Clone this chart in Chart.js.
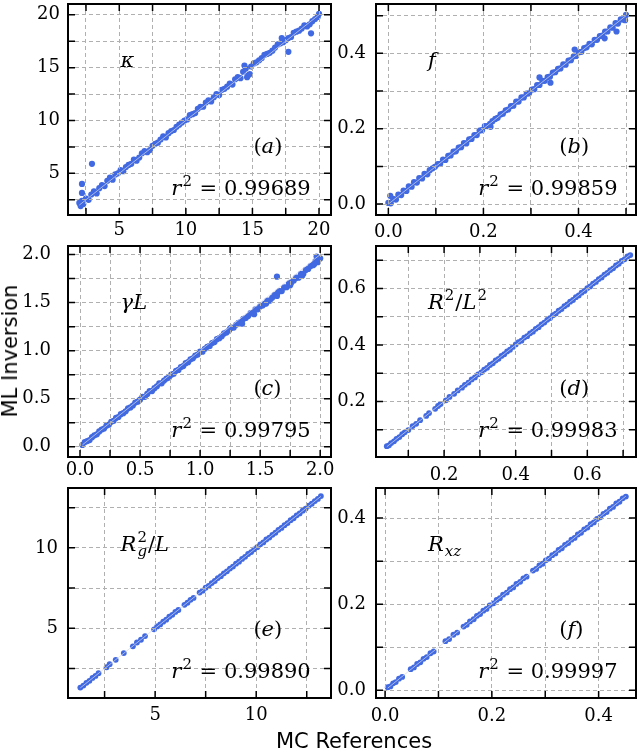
<!DOCTYPE html>
<html>
<head>
<meta charset="utf-8">
<script src="https://cdn.jsdelivr.net/npm/chart.js@4.4.1/dist/chart.umd.min.js"></script>
<style>
  html, body { margin: 0; padding: 0; background: #fff; }
  #wrap { position: relative; width: 640px; height: 752px; overflow: hidden; background: #fff; }
  canvas { position: absolute; }
  .lab { position: absolute; font-family: "DejaVu Sans"; font-size: 21px; color: #000; white-space: nowrap; }
  #ylab { left: 10px; top: 351px; transform: translate(-50%, -50%) rotate(-90deg); }
  #xlab { left: 354px; top: 741px; transform: translate(-50%, -50%); }
</style>
</head>
<body>
<div id="wrap">
  <canvas id="pa"></canvas>
  <canvas id="pb"></canvas>
  <canvas id="pc"></canvas>
  <canvas id="pd"></canvas>
  <canvas id="pe"></canvas>
  <canvas id="pf"></canvas>
  <div class="lab" id="ylab">ML Inversion</div>
  <div class="lab" id="xlab">MC References</div>
</div>
<script>
// (a) kappa : MC reference vs ML inversion
const kappaRef = [
  2.0, 2.1, 2.2, 2.3, 2.5, 2.7, 2.9, 3.1, 3.3, 3.5,
  3.7, 3.9, 4.1, 4.3, 4.5, 4.7, 4.9, 5.1, 5.3, 5.5,
  5.7, 5.9, 6.1, 6.3, 6.5, 6.7, 6.9, 7.1, 7.3, 7.5,
  7.7, 7.9, 8.1, 8.3, 8.5, 8.7, 8.9, 9.1, 9.3, 9.5,
  9.7, 9.9, 10.1, 10.3, 10.5, 10.7, 10.9, 11.1, 11.3, 11.5,
  11.7, 11.9, 12.1, 12.3, 12.5, 12.7, 12.9, 13.1, 13.3, 13.5,
  13.7, 13.9, 14.1, 14.3, 14.5, 14.7, 14.9, 15.1, 15.3, 15.5,
  15.7, 15.9, 16.1, 16.3, 16.5, 16.7, 16.9, 17.1, 17.3, 17.5,
  17.7, 17.9, 18.1, 18.3, 18.5, 18.7, 18.9, 19.1, 19.3, 19.5,
  19.7, 19.9, 20.0, 2.2, 2.2, 2.95, 17.7, 19.4, 14.6, 14.8,
  14.4, 17.2
];
const kappaML = [
  2.2, 1.9, 2.4, 2.1, 2.6, 2.5, 3.0, 3.3, 3.1, 3.6,
  3.9, 3.8, 4.3, 4.6, 4.4, 4.9, 5.0, 5.3, 5.2, 5.6,
  5.8, 5.9, 6.3, 6.2, 6.5, 6.9, 7.1, 7.0, 7.2, 7.6,
  7.8, 7.9, 8.2, 8.5, 8.4, 8.8, 9.0, 9.1, 9.4, 9.6,
  9.8, 10.0, 10.1, 10.5, 10.6, 10.7, 11.1, 11.3, 11.3, 11.7,
  11.9, 11.8, 12.2, 12.5, 12.4, 12.9, 13.0, 13.2, 13.5, 13.4,
  13.9, 14.1, 14.0, 14.6, 14.9, 14.3, 15.1, 15.4, 15.5, 15.7,
  15.9, 16.2, 16.3, 16.4, 16.6, 16.9, 17.2, 17.3, 17.4, 17.6,
  17.8, 17.9, 18.3, 18.4, 18.5, 18.7, 19.0, 18.9, 19.1, 19.4,
  19.6, 19.8, 20.1, 4.0, 3.15, 5.9, 16.5, 18.25, 14.1, 14.4,
  15.2, 17.8
];

// (b) f
const fRef = [
  0.000, 0.005, 0.010, 0.016, 0.021, 0.027, 0.032, 0.038, 0.043, 0.049,
  0.054, 0.060, 0.065, 0.071, 0.076, 0.082, 0.087, 0.093, 0.098, 0.104,
  0.109, 0.115, 0.120, 0.126, 0.131, 0.137, 0.142, 0.148, 0.153, 0.159,
  0.164, 0.170, 0.175, 0.181, 0.186, 0.192, 0.197, 0.203, 0.208, 0.214,
  0.219, 0.225, 0.230, 0.236, 0.241, 0.247, 0.252, 0.258, 0.263, 0.269,
  0.274, 0.280, 0.285, 0.291, 0.296, 0.302, 0.307, 0.313, 0.318, 0.324,
  0.329, 0.335, 0.340, 0.346, 0.351, 0.357, 0.362, 0.368, 0.373, 0.379,
  0.384, 0.390, 0.395, 0.401, 0.406, 0.412, 0.417, 0.423, 0.428, 0.434,
  0.439, 0.445, 0.450, 0.456, 0.461, 0.467, 0.472, 0.478, 0.483, 0.489,
  0.494, 0.500, 0.004, 0.341, 0.480, 0.455, 0.392, 0.498, 0.318, 0.215
];
const fML = [
  0.003, 0.002, 0.014, 0.012, 0.025, 0.024, 0.036, 0.035, 0.047, 0.046,
  0.058, 0.057, 0.069, 0.068, 0.080, 0.079, 0.090, 0.095, 0.099, 0.106,
  0.107, 0.118, 0.117, 0.128, 0.129, 0.139, 0.140, 0.150, 0.151, 0.162,
  0.161, 0.172, 0.173, 0.183, 0.183, 0.195, 0.196, 0.207, 0.207, 0.213,
  0.220, 0.226, 0.229, 0.238, 0.240, 0.249, 0.251, 0.260, 0.261, 0.272,
  0.272, 0.283, 0.283, 0.293, 0.294, 0.304, 0.305, 0.316, 0.316, 0.327,
  0.327, 0.337, 0.338, 0.349, 0.350, 0.359, 0.360, 0.371, 0.370, 0.381,
  0.382, 0.392, 0.393, 0.403, 0.404, 0.414, 0.416, 0.425, 0.424, 0.436,
  0.436, 0.446, 0.447, 0.458, 0.458, 0.469, 0.468, 0.480, 0.479, 0.490,
  0.490, 0.502, 0.022, 0.322, 0.458, 0.440, 0.410, 0.488, 0.336, 0.205
];

// (c) gamma L
const gammaRef = [
  0.02, 0.04, 0.06, 0.08, 0.10, 0.12, 0.14, 0.16, 0.18, 0.20,
  0.22, 0.24, 0.26, 0.28, 0.30, 0.32, 0.34, 0.36, 0.38, 0.40,
  0.42, 0.44, 0.46, 0.48, 0.50, 0.52, 0.54, 0.56, 0.58, 0.60,
  0.62, 0.64, 0.66, 0.68, 0.70, 0.72, 0.74, 0.76, 0.78, 0.80,
  0.82, 0.84, 0.86, 0.88, 0.90, 0.92, 0.94, 0.96, 0.98, 1.00,
  1.02, 1.04, 1.06, 1.08, 1.10, 1.12, 1.14, 1.16, 1.18, 1.20,
  1.22, 1.24, 1.26, 1.28, 1.30, 1.32, 1.34, 1.36, 1.38, 1.40,
  1.42, 1.44, 1.46, 1.48, 1.50, 1.52, 1.54, 1.56, 1.58, 1.60,
  1.62, 1.64, 1.66, 1.68, 1.70, 1.72, 1.74, 1.76, 1.78, 1.80,
  1.82, 1.84, 1.86, 1.88, 1.90, 1.92, 1.94, 1.96, 1.98, 2.00,
  1.45, 1.55, 1.65, 1.75, 1.85, 1.95, 1.64, 1.97, 1.25, 1.35
];
const gammaML = [
  0.02, 0.05, 0.06, 0.07, 0.10, 0.12, 0.13, 0.16, 0.18, 0.19,
  0.22, 0.23, 0.26, 0.27, 0.30, 0.31, 0.34, 0.35, 0.37, 0.40,
  0.41, 0.43, 0.46, 0.47, 0.49, 0.52, 0.52, 0.55, 0.58, 0.58,
  0.61, 0.63, 0.66, 0.66, 0.69, 0.71, 0.72, 0.75, 0.76, 0.79,
  0.80, 0.83, 0.84, 0.87, 0.88, 0.91, 0.92, 0.95, 0.96, 0.99,
  0.99, 1.02, 1.04, 1.05, 1.08, 1.09, 1.12, 1.13, 1.15, 1.18,
  1.19, 1.21, 1.24, 1.24, 1.27, 1.29, 1.30, 1.33, 1.34, 1.36,
  1.39, 1.39, 1.43, 1.43, 1.46, 1.47, 1.49, 1.52, 1.52, 1.55,
  1.58, 1.57, 1.62, 1.62, 1.66, 1.66, 1.70, 1.71, 1.73, 1.76,
  1.76, 1.80, 1.80, 1.84, 1.85, 1.88, 1.89, 1.93, 1.92, 1.96,
  1.38, 1.49, 1.61, 1.68, 1.78, 1.90, 1.77, 1.98, 1.23, 1.28
];

// (d) R^2/L^2
const r2l2Ref = [
  0.040, 0.046, 0.052, 0.060, 0.067, 0.075, 0.083, 0.090, 0.100, 0.112,
  0.122, 0.133, 0.150, 0.158, 0.175, 0.183, 0.190, 0.205, 0.215, 0.228,
  0.238, 0.250, 0.258, 0.268, 0.277, 0.286, 0.295, 0.304, 0.312, 0.320,
  0.328, 0.336, 0.344, 0.352, 0.360, 0.368, 0.376, 0.384, 0.392, 0.400,
  0.408, 0.416, 0.424, 0.432, 0.440, 0.448, 0.456, 0.464, 0.472, 0.480,
  0.488, 0.496, 0.504, 0.512, 0.520, 0.528, 0.536, 0.544, 0.552, 0.560,
  0.568, 0.576, 0.584, 0.592, 0.600, 0.608, 0.616, 0.624, 0.632, 0.640,
  0.648, 0.656, 0.664, 0.672, 0.680, 0.688, 0.696, 0.704, 0.712, 0.720
];
const r2l2ML = [
  0.042, 0.045, 0.053, 0.059, 0.068, 0.074, 0.084, 0.091, 0.099, 0.113,
  0.121, 0.134, 0.149, 0.159, 0.174, 0.184, 0.191, 0.204, 0.216, 0.227,
  0.239, 0.249, 0.259, 0.267, 0.278, 0.285, 0.296, 0.303, 0.313, 0.319,
  0.329, 0.335, 0.345, 0.351, 0.361, 0.367, 0.377, 0.383, 0.393, 0.402,
  0.410, 0.415, 0.426, 0.431, 0.441, 0.447, 0.457, 0.463, 0.473, 0.479,
  0.489, 0.495, 0.505, 0.511, 0.521, 0.527, 0.537, 0.543, 0.553, 0.559,
  0.569, 0.575, 0.585, 0.591, 0.601, 0.607, 0.617, 0.623, 0.633, 0.639,
  0.649, 0.655, 0.665, 0.671, 0.681, 0.687, 0.697, 0.703, 0.713, 0.718
];

// (e) Rg^2/L
const rgRef = [
  1.30, 1.45, 1.60, 1.75, 1.90, 2.05, 2.20, 2.60, 2.75, 3.05,
  3.45, 3.90, 4.10, 4.30, 4.50, 4.95, 5.10, 5.25, 5.40, 5.55,
  5.70, 5.85, 6.00, 6.15, 6.45, 6.60, 6.75, 6.90, 7.20, 7.35,
  7.50, 7.65, 7.80, 7.95, 8.10, 8.25, 8.40, 8.55, 8.70, 8.85,
  9.00, 9.15, 9.30, 9.45, 9.60, 9.75, 9.90, 10.05, 10.20, 10.35,
  10.50, 10.65, 10.80, 10.95, 11.10, 11.25, 11.40, 11.55, 11.70, 11.85,
  12.00, 12.15, 12.30, 12.45, 12.60, 12.75, 12.90, 13.05, 13.20
];
const rgML = [
  1.32, 1.44, 1.61, 1.74, 1.92, 2.04, 2.21, 2.58, 2.77, 3.04,
  3.46, 3.88, 4.12, 4.29, 4.52, 4.94, 5.12, 5.24, 5.41, 5.54,
  5.72, 5.84, 6.02, 6.14, 6.46, 6.59, 6.77, 6.89, 7.22, 7.34,
  7.52, 7.64, 7.81, 7.94, 8.12, 8.24, 8.42, 8.54, 8.71, 8.84,
  9.02, 9.14, 9.31, 9.44, 9.62, 9.74, 9.91, 10.04, 10.22, 10.34,
  10.52, 10.64, 10.81, 10.94, 11.12, 11.24, 11.41, 11.54, 11.72, 11.84,
  12.02, 12.14, 12.31, 12.44, 12.62, 12.74, 12.91, 13.04, 13.22
];

// (f) Rxz
const rxzRef = [
  0.005, 0.010, 0.015, 0.020, 0.026, 0.032, 0.048, 0.054, 0.060, 0.066,
  0.072, 0.078, 0.085, 0.091, 0.113, 0.120, 0.128, 0.135, 0.147, 0.153,
  0.159, 0.166, 0.172, 0.178, 0.184, 0.190, 0.196, 0.203, 0.209, 0.215,
  0.221, 0.228, 0.234, 0.240, 0.246, 0.253, 0.259, 0.265, 0.277, 0.283,
  0.289, 0.295, 0.301, 0.307, 0.313, 0.319, 0.325, 0.331, 0.337, 0.343,
  0.349, 0.355, 0.361, 0.367, 0.373, 0.379, 0.385, 0.391, 0.397, 0.403,
  0.409, 0.415, 0.421, 0.427, 0.433, 0.439, 0.445, 0.451
];
const rxzML = [
  0.007, 0.009, 0.016, 0.019, 0.027, 0.031, 0.049, 0.053, 0.061, 0.065,
  0.073, 0.077, 0.086, 0.090, 0.114, 0.119, 0.129, 0.134, 0.148, 0.152,
  0.160, 0.165, 0.173, 0.177, 0.185, 0.189, 0.197, 0.202, 0.210, 0.214,
  0.222, 0.227, 0.235, 0.239, 0.247, 0.252, 0.260, 0.264, 0.278, 0.282,
  0.290, 0.294, 0.302, 0.306, 0.314, 0.318, 0.326, 0.330, 0.338, 0.342,
  0.350, 0.354, 0.362, 0.366, 0.374, 0.378, 0.386, 0.390, 0.398, 0.402,
  0.410, 0.414, 0.422, 0.426, 0.434, 0.438, 0.446, 0.450
];

const r2Values = ['0.99689', '0.99859', '0.99795', '0.99983', '0.99890', '0.99997'];
const panelTags = ['a', 'b', 'c', 'd', 'e', 'f'];

const blue = '#4169e1';
const serif = '"DejaVu Serif"';

function fontStr(it, size) {
  return (it ? 'italic ' : '') + size + 'px ' + serif;
}

// draws a short math-like string made of segments
function drawRich(ctx, segs, x, y, size) {
  ctx.textBaseline = 'alphabetic';
  ctx.textAlign = 'left';
  ctx.fillStyle = '#000';
  for (const s of segs) {
    if (s.sup || s.sub) {
      const fs = Math.round(size * 0.7);
      let w = 0;
      if (s.sup) {
        ctx.font = fontStr(false, fs);
        ctx.fillText(s.sup, x + 1, y - size * 0.42);
        w = Math.max(w, ctx.measureText(s.sup).width);
      }
      if (s.sub) {
        ctx.font = fontStr(true, fs);
        ctx.fillText(s.sub, x + 1, y + size * 0.24);
        w = Math.max(w, ctx.measureText(s.sub).width);
      }
      x += w + 2;
    } else {
      ctx.font = fontStr(s.i, size);
      ctx.fillText(s.t, x, y);
      x += ctx.measureText(s.t).width;
    }
  }
}

const names = {
  pa: [{ t: 'κ', i: true }],
  pb: [{ t: 'f', i: true }],
  pc: [{ t: 'γL', i: true }],
  pd: [{ t: 'R', i: true }, { sup: '2' }, { t: '/' }, { t: 'L', i: true }, { sup: '2' }],
  pe: [{ t: 'R', i: true }, { sup: '2', sub: 'g' }, { t: '/' }, { t: 'L', i: true }],
  pf: [{ t: 'R', i: true }, { sub: 'xz' }]
};

const panelPlugin = {
  id: 'panelDeco',
  afterDraw(chart) {
    const { ctx, chartArea: a, scales } = chart;
    const id = chart.canvas.id;
    const k = ['pa', 'pb', 'pc', 'pd', 'pe', 'pf'].indexOf(id);
    ctx.save();
    ctx.strokeStyle = '#000';
    ctx.lineWidth = 1.5;
    ctx.beginPath();
    for (const t of scales.x.ticks) {
      const px = scales.x.getPixelForValue(t.value);
      ctx.moveTo(px, a.bottom); ctx.lineTo(px, a.bottom - 7);
      ctx.moveTo(px, a.top); ctx.lineTo(px, a.top + 7);
    }
    for (const t of scales.y.ticks) {
      const py = scales.y.getPixelForValue(t.value);
      ctx.moveTo(a.left, py); ctx.lineTo(a.left + 7, py);
      ctx.moveTo(a.right, py); ctx.lineTo(a.right - 7, py);
    }
    ctx.stroke();
    ctx.lineWidth = 2;
    ctx.strokeRect(a.left, a.top, a.right - a.left, a.bottom - a.top);

    const w = a.right - a.left, h = a.bottom - a.top;
    drawRich(ctx, names[id], a.left + 0.2 * w, a.top + 0.30 * h, 21);
    drawRich(ctx, [{ t: '(' }, { t: panelTags[k], i: true }, { t: ')' }], a.left + 0.705 * w, a.top + 0.705 * h, 21);
    drawRich(ctx, [{ t: 'r', i: true }, { sup: '2' }, { t: ' = ' + r2Values[k] }], a.left + 0.393 * w, a.top + 0.905 * h, 21);
    ctx.restore();
  }
};

function makeAxis(min, max, step, major, dec, pad, fixSize, isX) {
  return {
    type: 'linear',
    min: min,
    max: max,
    afterFit(s) {
      if (isX) { s.height = fixSize; s.paddingLeft = 0; s.paddingRight = 0; }
      else { s.width = fixSize; s.paddingTop = 0; s.paddingBottom = 0; }
    },
    ticks: {
      stepSize: step,
      includeBounds: false,
      autoSkip: false,
      maxRotation: 0,
      color: '#000',
      padding: pad,
      font: { family: 'DejaVu Serif', size: 18, lineHeight: 1 },
      callback(v) {
        const q = v / major;
        return Math.abs(q - Math.round(q)) < 1e-6 ? Number(v).toFixed(dec) : '';
      }
    },
    grid: { color: '#b0b0b0', lineWidth: 1, drawTicks: false, z: 1 },
    border: { display: false, dash: [4, 3] }
  };
}

function panel(id, ref, ml, box, col, xr, yr, step, major, dec, yPad, xPad, rad) {
  const cv = document.getElementById(id);
  const left = col === 0 ? 0 : 330;
  const width = col === 0 ? 340 : 310;
  const top = box[1] - 1;
  const xH = 32;
  const height = box[3] - top + xH;
  cv.style.left = left + 'px';
  cv.style.top = top + 'px';
  cv.width = width;
  cv.height = height;
  const yW = box[0] - left;
  const padR = left + width - box[2];
  const pts = ref.map((v, i) => ({ x: v, y: ml[i] }));
  const lo = Math.min(...ref), hi = Math.max(...ref);
  return new Chart(cv, {
    type: 'scatter',
    data: {
      datasets: [
        { type: 'line', data: [{ x: lo, y: lo }, { x: hi, y: hi }], borderColor: 'rgba(215,218,230,0.7)',
          borderWidth: 1, pointRadius: 0, order: 0 },
        { data: pts, backgroundColor: blue, borderWidth: 0, pointRadius: rad, order: 1 }
      ]
    },
    options: {
      responsive: false,
      animation: false,
      layout: { padding: { top: 1, right: padR, left: 0, bottom: 0 } },
      plugins: { legend: { display: false }, tooltip: { enabled: false } },
      scales: {
        x: makeAxis(xr[0], xr[1], step, major, dec, xPad, xH, true),
        y: makeAxis(yr[0], yr[1], step, major, dec, yPad, yW, false)
      }
    },
    plugins: [panelPlugin]
  });
}

panel('pa', kappaRef, kappaML, [68, 1, 331, 215], 0, [1.15, 20.9], [1.06, 21.02], 2.5, 5, 0, 8, 6, 3.1);
panel('pb', fRef, fML, [376, 1, 636, 215], 1, [-0.026, 0.521], [-0.029, 0.531], 0.1, 0.2, 1, 10, 8, 3.1);
panel('pc', gammaRef, gammaML, [68, 243, 331, 457], 0, [-0.1, 2.09], [-0.106, 2.089], 0.25, 0.5, 1, 17, 4, 3.1);
panel('pd', r2l2Ref, r2l2ML, [376, 243, 636, 457], 1, [0.0098, 0.736], [0.0036, 0.75], 0.1, 0.2, 1, 10, 9, 2.9);
panel('pe', rgRef, rgML, [68, 485, 331, 698], 0, [0.69, 13.7], [0.67, 13.72], 2.5, 5, 0, 10, 8, 2.9);
panel('pf', rxzRef, rxzML, [376, 485, 637, 698], 1, [-0.017, 0.47], [-0.018, 0.47], 0.1, 0.2, 1, 10, 9, 2.9);
</script>
</body>
</html>
